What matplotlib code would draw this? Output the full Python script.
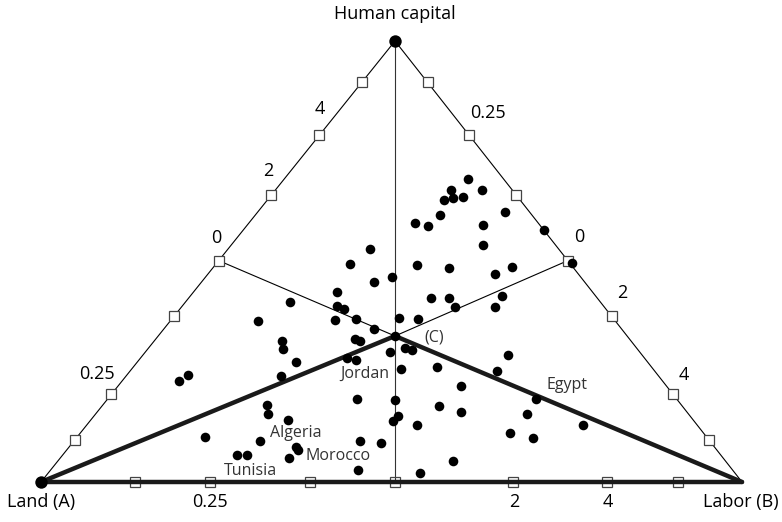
import numpy as np
import matplotlib.pyplot as plt

# chart units: x from Land (A) = 0 to Labor (B) = 701, y from base = 0 to apex = 441
apex_x = 354
apex_y = 441
base_len = 701
c_point = (354, 146)

# country / observation dots
pts_x = [427, 410, 441, 403, 412, 422, 399, 464, 374, 387, 442, 503, 442, 531,
         376, 408, 454, 471, 351, 390, 408, 461, 414, 454, 358, 377, 364, 371,
         349, 467, 360, 396, 456, 420, 495, 354, 398, 420, 486, 357, 352, 376,
         542, 469, 492, 412, 379, 329, 309, 333, 296, 249, 296, 303, 217, 294,
         315, 333, 241, 242, 314, 319, 255, 306, 315, 138, 147, 240, 316, 226,
         227, 247, 164, 219, 255, 257, 319, 340, 196, 206, 248, 317]
pts_y = [303, 292, 292, 282, 284, 285, 267, 270, 259, 256, 257, 252, 237, 219,
         217, 214, 208, 215, 205, 184, 184, 186, 175, 175, 164, 163, 134, 132,
         130, 127, 113, 115, 111, 96, 83, 82, 76, 70, 68, 66, 61, 57,
         57, 49, 44, 21, 9, 233, 218, 200, 190, 180, 176, 173, 161, 162,
         163, 153, 141, 133, 143, 141, 120, 124, 122, 101, 107, 106, 83, 77,
         68, 62, 45, 41, 35, 32, 41, 39, 27, 27, 24, 12]

# tick squares: fractions along the edges
side_ticks = [0.096, 0.199, 0.376, 0.502, 0.651, 0.786, 0.906]
base_ticks = [0.134, 0.241, 0.384, 0.505, 0.673, 0.807, 0.909]
c_line_frac = 0.502

left_labels = ['4', '2', '0', '0.25']
left_label_pos = [(279, 373), (227, 311), (175, 244), (56, 108)]
right_labels = ['0.25', '0', '2', '4']
right_label_pos = [(447, 369), (538, 245), (581, 189), (643, 107)]
base_labels = ['0.25', '2', '4']
base_label_x = [169, 473, 567]

countries = ['Jordan', 'Algeria', 'Morocco', 'Tunisia', 'Egypt']
country_pos = [(324, 108), (255, 49), (297, 26), (209, 11), (526, 97)]

plt.rcParams['font.family'] = ['Open Sans', 'DejaVu Sans']

fig = plt.figure(figsize=(7.82, 5.22), dpi=100)
ax = fig.add_axes([0, 0, 1, 1])
ax.set_xlim(-41, 741)
ax.set_ylim(-40, 482)
ax.axis('off')

A = np.array([0, 0])
B = np.array([base_len, 0])
H = np.array([apex_x, apex_y])
C = np.array(c_point)

thin = dict(color='black', lw=0.8, zorder=2)
thick = dict(color='#1a1a1a', lw=3.2, zorder=4, solid_capstyle='round')

# outline and guide lines
ax.plot([A[0], H[0], B[0]], [A[1], H[1], B[1]], **thin)
ax.plot([H[0], H[0]], [H[1], 0], color='#333333', lw=0.8, zorder=2)
L0 = A + c_line_frac * (H - A)
R0 = B + c_line_frac * (H - B)
ax.plot([L0[0], C[0], R0[0]], [L0[1], C[1], R0[1]], **thin)

# thick lines
ax.plot([A[0], B[0]], [0, 0], **thick)
ax.plot([A[0], C[0], B[0]], [A[1], C[1], B[1]], **thick)

# tick squares
sq = dict(marker='s', ms=7.2, mfc='white', mec='#444444', mew=0.9, ls='none')
t = np.array(side_ticks)
ax.plot(A[0] + t * (H[0] - A[0]), A[1] + t * (H[1] - A[1]), zorder=3, **sq)
ax.plot(B[0] + t * (H[0] - B[0]), B[1] + t * (H[1] - B[1]), zorder=3, **sq)
ax.plot(np.array(base_ticks) * base_len, np.zeros(len(base_ticks)),
        zorder=3, **dict(sq, mfc='none'))

# data dots
ax.scatter(pts_x, pts_y, s=48, color='black', zorder=5, linewidths=0)
ax.scatter([C[0]], [C[1]], s=48, color='black', zorder=6, linewidths=0)
ax.scatter([A[0], H[0]], [A[1], H[1]], s=80, color='black', zorder=6, linewidths=0)

# text
fs = 13
ax.text(H[0], 468, 'Human capital', ha='center', va='center', fontsize=fs)
ax.text(0, -20, 'Land (A)', ha='center', va='center', fontsize=fs)
ax.text(700, -20, 'Labor (B)', ha='center', va='center', fontsize=fs)
for lab, (x, y) in zip(left_labels, left_label_pos):
    ax.text(x, y, lab, ha='center', va='center', fontsize=fs)
for lab, (x, y) in zip(right_labels, right_label_pos):
    ax.text(x, y, lab, ha='center', va='center', fontsize=fs)
for lab, x in zip(base_labels, base_label_x):
    ax.text(x, -20, lab, ha='center', va='center', fontsize=fs)
for lab, (x, y) in zip(countries, country_pos):
    ax.text(x, y, lab, ha='center', va='center', fontsize=11.5, color='#333333')
ax.text(393, 144, '(C)', ha='center', va='center', fontsize=11.5, color='#333333')

fig.savefig('out.png', dpi=100)
